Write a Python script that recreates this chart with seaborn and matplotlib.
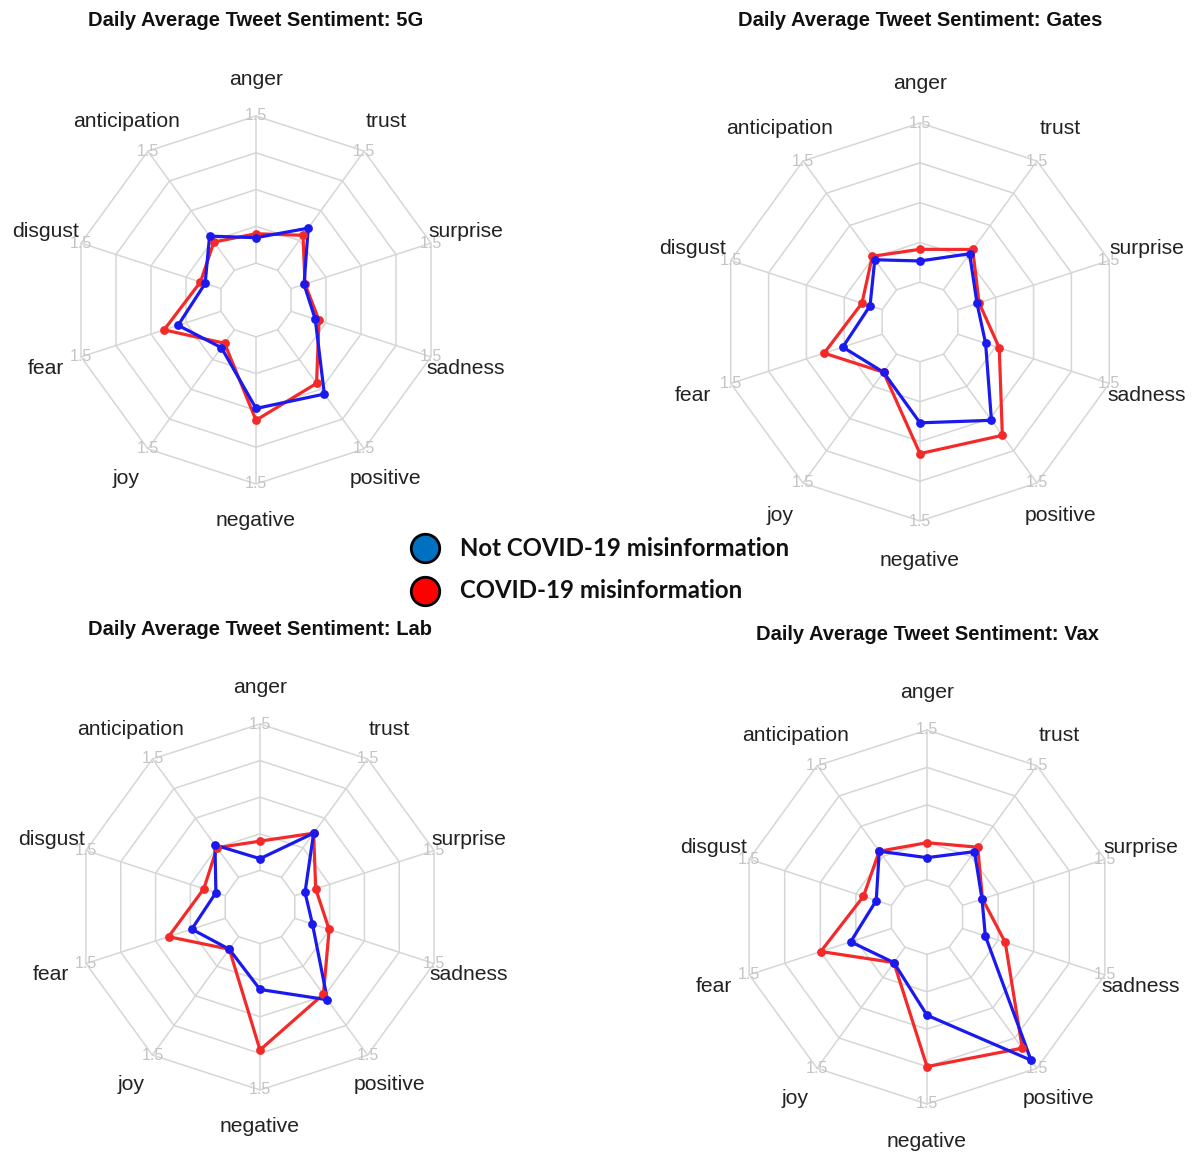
import numpy as np
import pandas as pd
import seaborn as sns
import matplotlib.pyplot as plt

# sentiment axes, clockwise from the top
emotions = ["anger", "trust", "surprise", "sadness", "positive",
            "negative", "joy", "fear", "disgust", "anticipation"]
axis_max = 1.5
n_seg = 4

titles = ["Daily Average Tweet Sentiment: 5G",
          "Daily Average Tweet Sentiment: Gates",
          "Daily Average Tweet Sentiment: Lab",
          "Daily Average Tweet Sentiment: Vax"]

# values
not_misinfo_5g = [0.26, 0.53, 0.14, 0.26, 0.81, 0.73, 0.225, 0.46, 0.17, 0.43]
misinfo_5g = [0.30, 0.44, 0.15, 0.30, 0.675, 0.85, 0.17, 0.61, 0.22, 0.355]
not_misinfo_gates = [0.20, 0.42, 0.19, 0.275, 0.77, 0.575, 0.21, 0.39, 0.12, 0.35]
misinfo_gates = [0.31, 0.47, 0.21, 0.41, 0.945, 0.865, 0.21, 0.575, 0.20, 0.39]
not_misinfo_lab = [0.12, 0.56, 0.11, 0.19, 0.80, 0.47, 0.16, 0.36, 0.10, 0.41]
misinfo_lab = [0.30, 0.56, 0.225, 0.37, 0.73, 1.09, 0.16, 0.61, 0.23, 0.375]
not_misinfo_vax = [0.22, 0.435, 0.205, 0.24, 1.40, 0.61, 0.19, 0.43, 0.16, 0.44]
misinfo_vax = [0.37, 0.49, 0.21, 0.45, 1.25, 1.125, 0.19, 0.745, 0.295, 0.44]

legend_labels = ["Not COVID-19 misinformation", "COVID-19 misinformation"]
legend_colors = ["#0070C0", "#FF0000"]
line_blue = "#1a1aee"
line_red = "#f42a2a"

sns.set_theme(style="white")
plt.rcParams['font.family'] = ['Liberation Sans', 'DejaVu Sans']

W, H = 1195, 1153
fig = plt.figure(figsize=(W / 100, H / 100), dpi=100)


def fx(x):
    return x / W


def fy(y):
    return 1 - y / H


def to_xy(vals):
    n = len(vals)
    ang = np.arange(n) * 2 * np.pi / n
    r = (1 + n_seg * np.asarray(vals) / axis_max) / (n_seg + 1)
    x = np.append(r * np.sin(ang), r[0] * np.sin(ang[0]))
    y = np.append(r * np.cos(ang), r[0] * np.cos(ang[0]))
    return pd.DataFrame({"x": x, "y": y, "order": np.arange(n + 1)})


def radar(cx, cy, R, title, ty, blue, red):
    L = 1.3
    ax = fig.add_axes([fx(cx - L * R), fy(cy + L * R), 2 * L * R / W, 2 * L * R / H])
    ax.set_xlim(-L, L)
    ax.set_ylim(-L, L)
    ax.axis("off")
    n = len(emotions)
    ang = np.arange(n + 1) * 2 * np.pi / n
    for k in range(1, n_seg + 2):
        rr = k / (n_seg + 1)
        ax.plot(rr * np.sin(ang), rr * np.cos(ang), color="#d6d6d6", lw=1.1, zorder=1)
    for a in ang[:-1]:
        ax.plot([0.2 * np.sin(a), np.sin(a)], [0.2 * np.cos(a), np.cos(a)],
                color="#d6d6d6", lw=1.1, zorder=1)
        ax.text(np.sin(a), np.cos(a), f"{axis_max}", color="#c4c4c4", fontsize=11.5,
                ha="center", va="center", zorder=2)
    for a, lab in zip(ang[:-1], emotions):
        ax.text(1.2 * np.sin(a), 1.2 * np.cos(a), lab, fontsize=15.2, color="#222222",
                ha="center", va="center")
    for vals, col in [(red, line_red), (blue, line_blue)]:
        df = to_xy(vals)
        sns.lineplot(data=df, x="x", y="y", sort=False, estimator=None, ax=ax,
                     color=col, lw=2.3, zorder=3)
        sns.scatterplot(data=df.iloc[:-1], x="x", y="y", ax=ax, color=col, s=40,
                        edgecolor=col, linewidth=0, zorder=4)
    ax.set_xlabel("")
    ax.set_ylabel("")
    fig.text(fx(cx), fy(ty), title, ha="center", va="center", fontsize=14.5,
             fontweight="bold", color="#111111")


radar(256, 300, 184, titles[0], 20, not_misinfo_5g, misinfo_5g)
radar(920, 322, 199, titles[1], 20, not_misinfo_gates, misinfo_gates)
radar(260, 907, 183, titles[2], 629, not_misinfo_lab, misinfo_lab)
radar(927, 917, 187, titles[3], 635, not_misinfo_vax, misinfo_vax)

# legend in the middle of the figure
lax = fig.add_axes([0, 0, 1, 1])
lax.set_xlim(0, W)
lax.set_ylim(H, 0)
lax.axis("off")
leg_y = [548, 591]
for yy, lab, col in zip(leg_y, legend_labels, legend_colors):
    lax.scatter([425], [yy], s=420, color=col, edgecolor="black", linewidth=2, zorder=5)
    lax.text(460, yy, lab, ha="left", va="center", fontsize=17.3, fontweight="bold",
             family=["Lato", "DejaVu Sans"], color="#111111")

fig.savefig("out.png", dpi=100)
